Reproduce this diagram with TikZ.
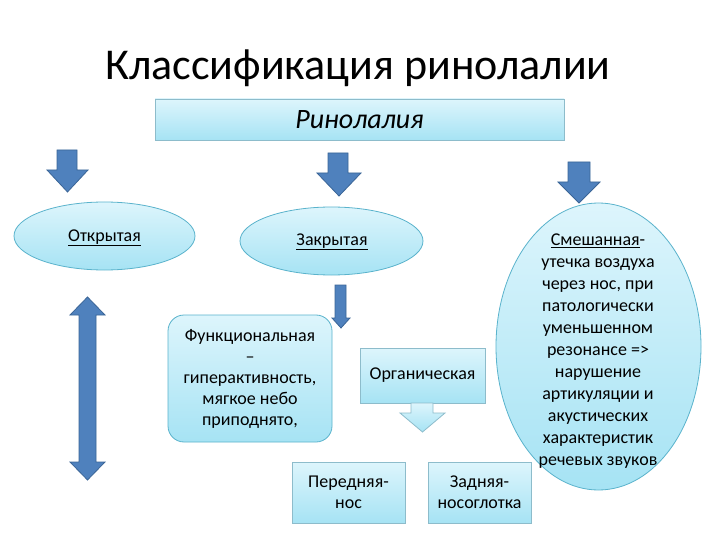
\documentclass[tikz,border=0pt]{standalone}
\usepackage{fontspec}
\setmainfont{Carlito}
\usetikzlibrary{shapes.geometric}
\definecolor{arrowblue}{HTML}{4F81BD}
\definecolor{arrowedge}{HTML}{3A6597}
\definecolor{boxtop}{HTML}{DDF5FC}
\definecolor{boxbot}{HTML}{A6E3F4}
\definecolor{boxedge}{HTML}{8DBCCB}
\definecolor{elledge}{HTML}{5AB3CC}
\tikzset{
  blockarrow/.style={fill=arrowblue, draw=arrowedge, line width=0.8pt, line join=miter},
  lightarrow/.style={top color=boxtop, bottom color=boxbot, draw=boxedge, line width=0.8pt},
  boxnode/.style={rectangle, top color=boxtop, bottom color=boxbot, draw=boxedge, line width=0.8pt, inner sep=0pt, align=center, font=\fontsize{18}{21}\selectfont},
  ellnode/.style={ellipse, top color=boxtop, bottom color=boxbot, draw=elledge, line width=0.8pt, inner sep=0pt, align=center, font=\fontsize{18}{21}\selectfont},
  txt/.style={align=center, inner sep=0pt, font=\fontsize{18}{22}\selectfont}
}
\begin{document}
\begin{tikzpicture}[x=1pt,y=-1pt]
\useasboundingbox (0,0) rectangle (720,540);
\fill[white] (0,0) rectangle (720,540);

% title
\node[inner sep=0pt, font=\fontsize{44}{50}\selectfont] (title) at (358,68) {Классификация ринолалии};

% top box
\node[boxnode, minimum width=409pt, minimum height=41pt, font=\fontsize{28}{30}\selectfont\itshape] (rin) at (359.5,119.5) {Ринолалия};

% block arrows
\draw[blockarrow] (57,150) -- (77,150) -- (77,170) -- (88,170) -- (67.5,192) -- (47,170) -- (57,170) -- cycle;
\draw[blockarrow] (328,153) -- (348,153) -- (348,173) -- (361,173) -- (339,196) -- (317,173) -- (328,173) -- cycle;
\draw[blockarrow] (568,162) -- (590,162) -- (590,182) -- (600,182) -- (579,203) -- (558,182) -- (568,182) -- cycle;
\draw[blockarrow] (335,285) -- (346,285) -- (346,318) -- (350,318) -- (341,328) -- (332,318) -- (335,318) -- cycle;
\draw[blockarrow] (87.5,297) -- (105,315) -- (96,315) -- (96,462) -- (105,462) -- (87.5,480) -- (70,462) -- (79,462) -- (79,315) -- (70,315) -- cycle;

% ellipses
\node[ellnode, minimum width=181pt, minimum height=68pt] (open) at (104.5,236) {};
\node[txt] (opentext) at (104.5,238) {\underline{Открытая}};
\node[ellnode, minimum width=183pt, minimum height=68pt] (closed) at (331.5,241) {};
\node[txt] (closedtext) at (332,242) {\underline{Закрытая}};
\node[ellnode, minimum width=205pt, minimum height=287pt] (mixed) at (598.5,346.5) {};
\node[txt] (mixedtext) at (598,351.5) {\underline{Смешанная}-\\утечка воздуха\\через нос, при\\патологически\\уменьшенном\\резонансе =>\\нарушение\\артикуляции и\\акустических\\характеристик\\речевых звуков};

% boxes
\node[boxnode, rounded corners=16pt, draw=elledge, minimum width=164pt, minimum height=127pt] (func) at (250,378.5) {Функциональная\\–\\гиперактивность,\\мягкое небо\\приподнято,};
\node[boxnode, minimum width=125pt, minimum height=55pt] (org) at (422.5,375.5) {Органическая};
\draw[lightarrow] (411,403) -- (433,403) -- (433,413) -- (445,413) -- (422.5,432) -- (400,413) -- (411,413) -- cycle;
\node[boxnode, minimum width=113pt, minimum height=61pt] (front) at (348.5,492.5) {Передняя-\\нос};
\node[boxnode, minimum width=103pt, minimum height=61pt] (back) at (479.5,492.5) {Задняя-\\носоглотка};
\end{tikzpicture}
\end{document}
